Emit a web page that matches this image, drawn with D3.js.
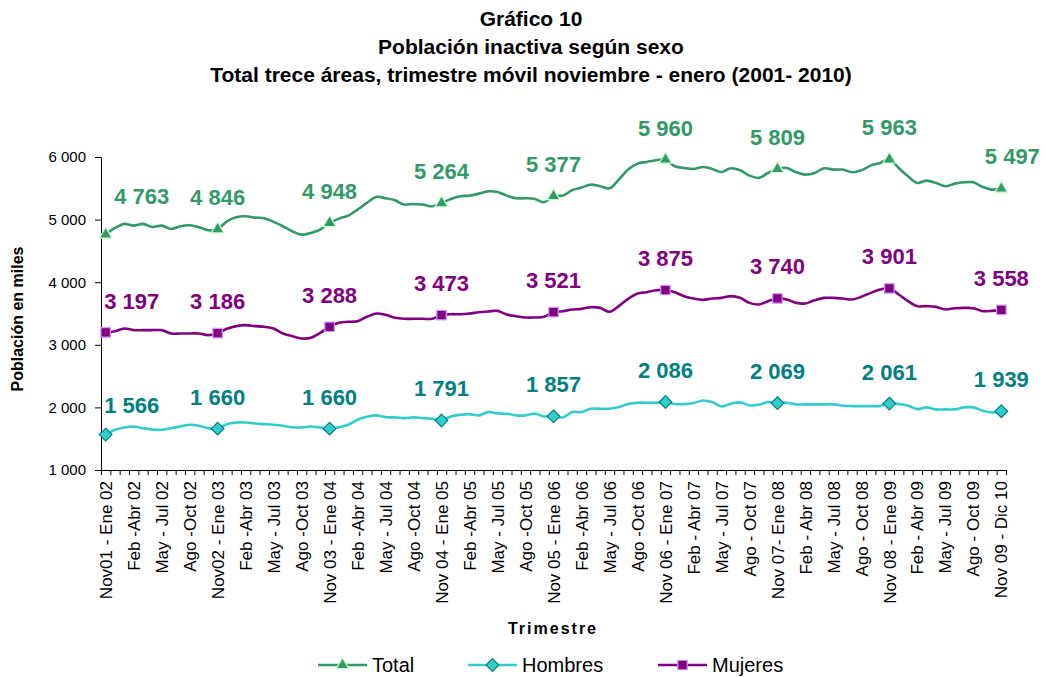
<!DOCTYPE html>
<meta charset="utf-8">
<head>
    <script src="https://d3js.org/d3.v7.min.js"></script>
    <style>
        body { margin: 0; background: #fff; font-family: Arial, "Liberation Sans", sans-serif; }
    </style>
</head>
<body>
<div id="chart"></div>
<script>
    // monthly rolling quarters, Nov01-Ene02 ... Nov09-Dic10 (97 points)
    const total = [
        4763, 4867, 4931, 4904, 4931, 4883, 4904, 4851, 4894, 4910, 4878, 4830,
        4846, 4973, 5037, 5053, 5032, 5021, 4963, 4894, 4814, 4760, 4787, 4840,
        4948, 5016, 5064, 5160, 5266, 5362, 5341, 5309, 5240, 5250, 5240, 5213,
        5264, 5330, 5372, 5383, 5415, 5452, 5442, 5383, 5341, 5341, 5330, 5277,
        5377, 5383, 5469, 5511, 5559, 5532, 5500, 5639, 5799, 5894, 5921, 5948,
        5960, 5852, 5825, 5809, 5841, 5809, 5761, 5820, 5788, 5703, 5666, 5745,
        5809, 5825, 5756, 5719, 5745, 5820, 5799, 5799, 5756, 5788, 5862, 5905,
        5963, 5825, 5692, 5586, 5623, 5586, 5532, 5575, 5596, 5596, 5522, 5479,
        5497
    ]
    const hombres = [
        1566, 1642, 1679, 1695, 1668, 1647, 1642, 1668, 1695, 1722, 1706, 1668,
        1660, 1733, 1759, 1759, 1743, 1733, 1722, 1706, 1684, 1679, 1695, 1679,
        1660, 1684, 1722, 1802, 1850, 1872, 1845, 1840, 1829, 1840, 1829, 1818,
        1791, 1856, 1882, 1893, 1872, 1925, 1904, 1898, 1872, 1872, 1898, 1856,
        1857, 1840, 1925, 1925, 1979, 1979, 1979, 2005, 2053, 2075, 2075, 2075,
        2086, 2053, 2053, 2070, 2110, 2085, 2016, 2059, 2080, 2032, 2043, 2086,
        2069, 2075, 2048, 2048, 2048, 2048, 2048, 2027, 2021, 2021, 2021, 2021,
        2061, 2053, 2027, 1973, 2000, 1968, 1968, 1968, 2000, 2000, 1947, 1920,
        1939
    ]
    const mujeres = [
        3197, 3218, 3260, 3234, 3234, 3234, 3234, 3181, 3181, 3181, 3181, 3154,
        3186, 3255, 3298, 3314, 3298, 3287, 3260, 3181, 3138, 3101, 3112, 3191,
        3288, 3351, 3367, 3378, 3447, 3500, 3479, 3431, 3415, 3415, 3415, 3415,
        3473, 3489, 3489, 3500, 3521, 3532, 3542, 3484, 3457, 3436, 3436, 3447,
        3521, 3537, 3564, 3574, 3601, 3590, 3527, 3617, 3734, 3819, 3840, 3872,
        3875, 3840, 3777, 3739, 3718, 3740, 3750, 3777, 3750, 3670, 3644, 3697,
        3740, 3723, 3670, 3660, 3713, 3750, 3750, 3739, 3723, 3766, 3830, 3883,
        3901, 3803, 3697, 3617, 3617, 3606, 3564, 3585, 3590, 3585, 3537, 3542,
        3558
    ]
    // one label every 3 months
    const tickLabels = [
        "Nov01 - Ene 02", "Feb -Abr 02", "May - Jul 02", "Ago -Oct 02",
        "Nov02 - Ene 03", "Feb -Abr 03", "May - Jul 03", "Ago -Oct 03",
        "Nov 03 - Ene 04", "Feb -Abr 04", "May - Jul 04", "Ago -Oct 04",
        "Nov 04 - Ene 05", "Feb -Abr 05", "May - Jul 05", "Ago -Oct 05",
        "Nov 05 - Ene 06", "Feb -Abr 06", "May - Jul 06", "Ago -Oct 06",
        "Nov 06 - Ene 07", "Feb - Abr 07", "May - Jul 07", "Ago - Oct 07",
        "Nov 07- Ene 08", "Feb - Abr 08", "May - Jul 08", "Ago - Oct 08",
        "Nov 08 - Ene 09", "Feb - Abr 09", "May - Jul 09", "Ago - Oct 09",
        "Nov 09 - Dic 10"
    ]
    const yTicks = [1000, 2000, 3000, 4000, 5000, 6000]

    // diamond = square turned 45 degrees
    const diamond = {
        draw(ctx, size) {
            const r = Math.sqrt(size / 2)
            ctx.moveTo(0, -r); ctx.lineTo(r, 0); ctx.lineTo(0, r); ctx.lineTo(-r, 0); ctx.closePath()
        }
    }

    const series = [
        {name: "Total", values: total, line: "#339966", text: "#339966", fill: "#339966", stroke: "#ccffcc", shape: d3.symbolTriangle, size: 70, firstDx: 36, lastDx: 11, firstDy: -30},
        {name: "Hombres", values: hombres, line: "#33cccc", text: "#008080", fill: "#33cccc", stroke: "#008080", shape: diamond, size: 80, firstDx: 26, lastDx: 0, firstDy: -22},
        {name: "Mujeres", values: mujeres, line: "#800080", text: "#800080", fill: "#800080", stroke: "#cc99ff", shape: d3.symbolSquare, size: 90, firstDx: 26, lastDx: 0, firstDy: -23}
    ]

    const W = 1046, H = 677
    const plotLeft = 101, plotRight = 1006, plotTop = 157, plotBottom = 470
    const n = total.length

    const svg = d3.select("#chart").append("svg")
        .attr("width", W)
        .attr("height", H)
        .style("font-family", "Arial, 'Liberation Sans', sans-serif")

    const x = d3.scaleBand()
        .domain(d3.range(n))
        .range([plotLeft, plotRight])
    const xEdge = d3.scaleLinear().domain([0, n]).range([plotLeft, plotRight])
    const cx = i => x(i) + x.bandwidth() / 2

    const y = d3.scaleLinear()
        .domain([1000, 6000])
        .range([plotBottom, plotTop])

    // title
    const titleLines = ["Gráfico 10", "Población inactiva según sexo", "Total trece áreas, trimestre móvil noviembre - enero (2001- 2010)"]
    svg.append("g").selectAll("text")
        .data(titleLines)
        .enter().append("text")
        .attr("x", 531)
        .attr("y", (d, i) => 26 + i * 28)
        .attr("text-anchor", "middle")
        .attr("font-size", 21)
        .attr("font-weight", "bold")
        .text(d => d)

    // y axis
    const leftAxis = d3.axisLeft(y)
        .tickValues(yTicks)
        .tickFormat(d => d3.format(",")(d).replace(",", " "))
        .tickSize(6)
        .tickPadding(9)
    const gy = svg.append("g")
        .attr("transform", `translate(${plotLeft},0)`)
        .call(leftAxis)
    gy.selectAll("text").attr("font-size", 15).attr("fill", "#000").attr("font-family", null)
    gy.selectAll("line, path").attr("stroke", "#000")

    svg.append("text")
        .attr("transform", "translate(23, 319) rotate(-90)")
        .attr("text-anchor", "middle")
        .attr("font-size", 16)
        .attr("font-weight", "bold")
        .text("Población en miles")

    // x axis: tick marks between categories
    const gx = svg.append("g")
        .attr("transform", `translate(0,${plotBottom})`)
        .call(d3.axisBottom(xEdge).tickValues(d3.range(n + 1)).tickSize(5).tickFormat(""))
    gx.selectAll("line, path").attr("stroke", "#000")

    svg.append("g").selectAll("text")
        .data(tickLabels)
        .enter().append("text")
        .attr("transform", (d, i) => `translate(${cx(i * 3)}, 481) rotate(-90)`)
        .attr("text-anchor", "end")
        .attr("dy", "0.36em")
        .attr("font-size", 17)
        .text(d => d)

    svg.append("text")
        .attr("x", 553)
        .attr("y", 634)
        .attr("text-anchor", "middle")
        .attr("font-size", 16)
        .attr("font-weight", "bold")
        .attr("letter-spacing", 2)
        .text("Trimestre")

    // lines, markers, labels
    const line = d3.line()
        .x((d, i) => cx(i))
        .y(d => y(d))
        .curve(d3.curveCatmullRom.alpha(0.5))

    series.forEach(s => {
        svg.append("path")
            .datum(s.values)
            .attr("fill", "none")
            .attr("stroke", s.line)
            .attr("stroke-width", 2.6)
            .attr("d", line)

        const marked = d3.range(0, n, 12)
        svg.append("g").selectAll("path")
            .data(marked)
            .enter().append("path")
            .attr("transform", i => `translate(${cx(i)},${y(s.values[i])})`)
            .attr("d", d3.symbol().type(s.shape).size(s.size))
            .attr("fill", s.fill)
            .attr("stroke", s.stroke)
            .attr("stroke-width", 1.2)

        svg.append("g").selectAll("text")
            .data(marked)
            .enter().append("text")
            .attr("x", i => cx(i) + (i === 0 ? s.firstDx : (i === n - 1 ? s.lastDx : 0)))
            .attr("y", i => y(s.values[i]) + (i === 0 ? s.firstDy : -24))
            .attr("text-anchor", "middle")
            .attr("font-size", 22)
            .attr("font-weight", "bold")
            .attr("fill", s.text)
            .text(i => d3.format(",")(s.values[i]).replace(",", " "))
    })

    // legend
    const legendX = [318, 468, 658]
    const legend = svg.append("g").selectAll("g")
        .data(series)
        .enter().append("g")
        .attr("transform", (d, i) => `translate(${legendX[i]}, 665)`)
    legend.append("line")
        .attr("x1", 0).attr("x2", 49)
        .attr("stroke", d => d.line)
        .attr("stroke-width", 2.6)
    legend.append("path")
        .attr("transform", "translate(24.5,0)")
        .attr("d", d => d3.symbol().type(d.shape).size(d.size)())
        .attr("fill", d => d.fill)
        .attr("stroke", d => d.stroke)
        .attr("stroke-width", 1.2)
    legend.append("text")
        .attr("x", 54)
        .attr("dy", "0.35em")
        .attr("font-size", 20)
        .text(d => d.name)
</script>
</body>
